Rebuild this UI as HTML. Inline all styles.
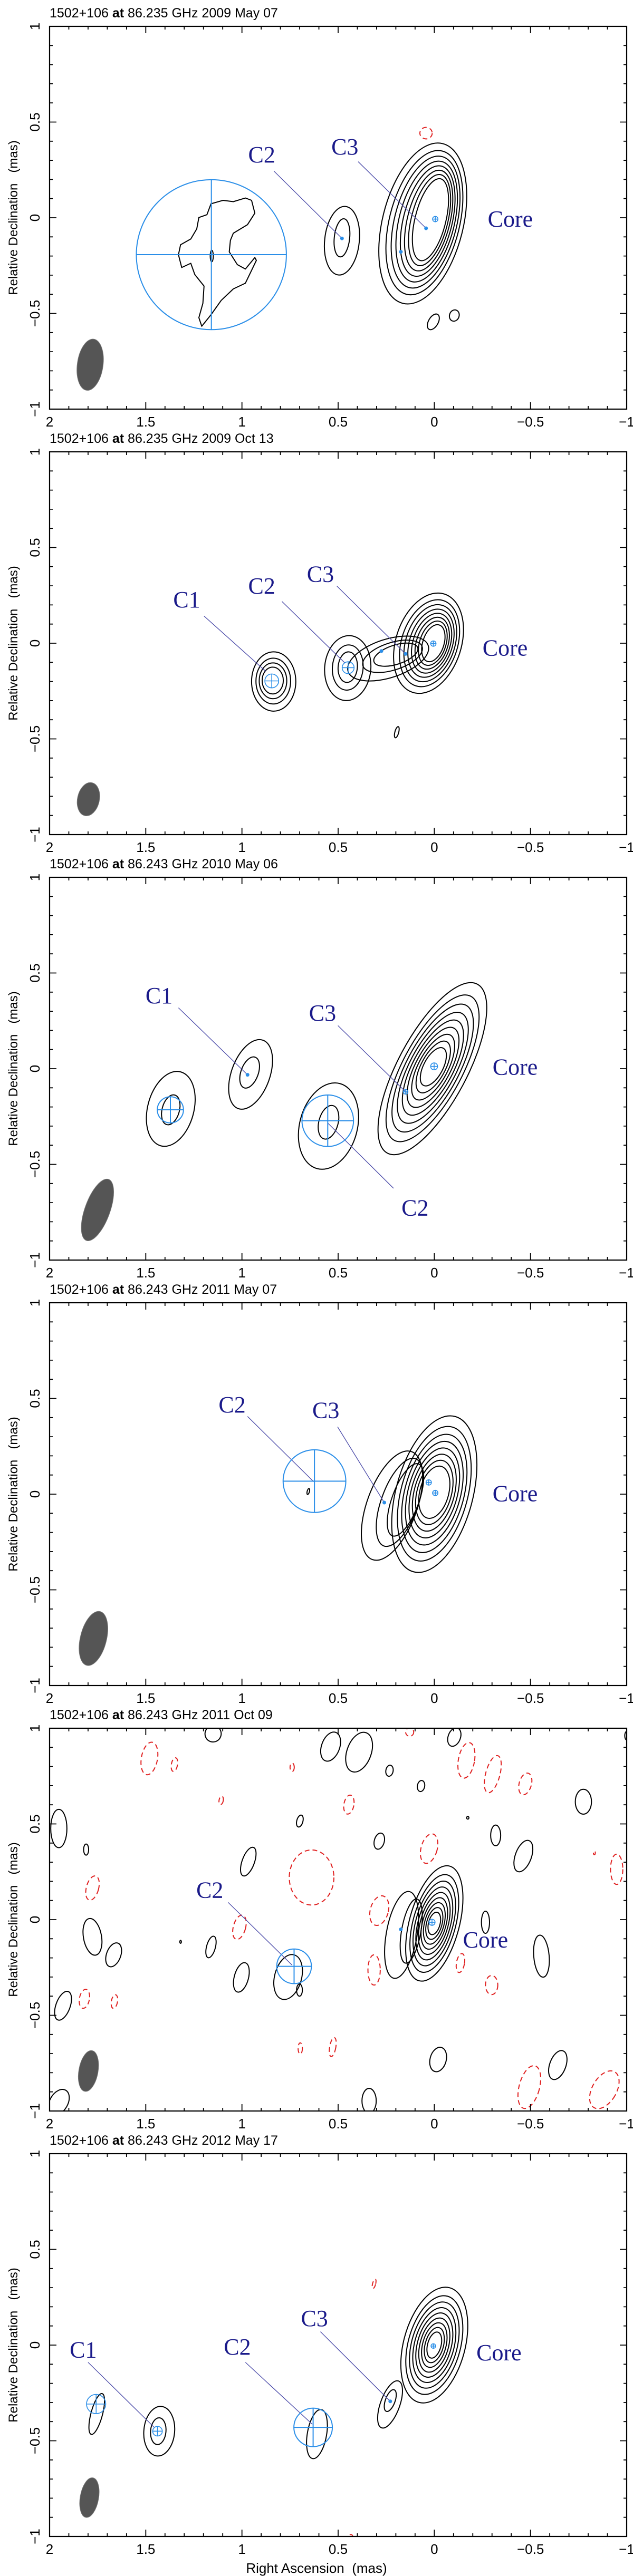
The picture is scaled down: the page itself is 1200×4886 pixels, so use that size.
<!DOCTYPE html>
<html><head><meta charset="utf-8"><title>1502+106 86 GHz maps</title>
<style>
html,body{margin:0;padding:0;background:#fff;}
svg{display:block;}
</style></head>
<body>
<svg id="fig" xmlns="http://www.w3.org/2000/svg" width="1200" height="4886" viewBox="0 0 1200 4886">
<rect x="0" y="0" width="1200" height="4886" fill="#fff"/>
<text x="600" y="4880" text-anchor="middle" font-family="Liberation Sans, sans-serif" font-size="26" fill="#000" style="white-space:pre">Right Ascension  (mas)</text>
</svg>
<script>
const titles = [
 ["1502+106 ","at"," 86.235 GHz 2009 May 07"],
 ["1502+106 ","at"," 86.235 GHz 2009 Oct 13"],
 ["1502+106 ","at"," 86.243 GHz 2010 May 06"],
 ["1502+106 ","at"," 86.243 GHz 2011 May 07"],
 ["1502+106 ","at"," 86.243 GHz 2011 Oct 09"],
 ["1502+106 ","at"," 86.243 GHz 2012 May 17"]
];
const xTicks = [2, 1.5, 1, 0.5, 0, -0.5, -1];
const xTickLabels = ["2","1.5","1","0.5","0","\u22120.5","\u22121"];
const yTicks = [1, 0.5, 0, -0.5, -1];
const yTickLabels = ["1","0.5","0","\u22120.5","\u22121"];
const beams = [
 [0,1.789,-0.768,0.135,0.067,8],
 [1,1.798,-0.815,0.088,0.057,12],
 [2,1.751,-0.738,0.170,0.065,20],
 [3,1.772,-0.754,0.145,0.068,14],
 [4,1.798,-0.791,0.108,0.050,10],
 [5,1.793,-0.797,0.105,0.048,10]
];
const contourGroups = [
 [0,0.06,-0.03,0.43,0.21, 0.02,-0.01,0.22,0.08, 14, 8],
 [0,0.48,-0.12,0.18,0.09, 0.48,-0.105,0.10,0.04, 6, 2],
 [1,0.03,0.0,0.27,0.17, 0.005,0.0,0.10,0.055, 18, 8],
 [1,0.24,-0.08,0.22,0.10, 0.20,-0.06,0.12,0.05, 72, 3],
 [1,0.45,-0.13,0.17,0.12, 0.45,-0.125,0.08,0.05, 5, 3],
 [1,0.835,-0.2,0.155,0.115, 0.84,-0.195,0.07,0.055, 0, 4],
 [2,0.01,0.0,0.50,0.18, 0.005,0.01,0.11,0.05, 28, 9],
 [2,0.55,-0.30,0.23,0.15, 0.55,-0.28,0.09,0.05, 15, 2],
 [2,0.955,-0.03,0.19,0.10, 0.96,-0.02,0.085,0.045, 20, 2],
 [2,1.37,-0.21,0.20,0.12, 1.37,-0.215,0.08,0.045, 15, 2],
 [3,0.0,0.0,0.42,0.20, 0.0,0.01,0.14,0.075, 15, 8],
 [3,0.22,-0.06,0.30,0.13, 0.15,-0.03,0.20,0.07, 20, 3],
 [4,0.0,-0.02,0.31,0.13, 0.0,-0.02,0.06,0.03, 15, 9],
 [4,0.17,-0.08,0.23,0.08, 0.12,-0.06,0.17,0.05, 10, 2],
 [4,0.76,-0.30,0.12,0.07, 0.76,-0.30,0.12,0.07, 15, 1],
 [5,0.0,0.0,0.31,0.16, 0.0,0.0,0.07,0.035, 15, 9],
 [5,0.23,-0.31,0.13,0.05, 0.229,-0.29,0.06,0.025, 20, 2],
 [5,0.61,-0.465,0.13,0.05, 0.61,-0.465,0.13,0.05, 10, 1],
 [5,1.43,-0.45,0.13,0.08, 1.435,-0.45,0.07,0.04, 5, 2],
 [5,1.755,-0.36,0.11,0.03, 1.755,-0.36,0.11,0.03, 15, 1]
];
const blackBlobs = [
 [0,1.157,-0.20,0.008,0.03,0],[0,0.005,-0.544,0.025,0.045,30],[0,-0.104,-0.511,0.025,0.03,20],
 [1,0.195,-0.465,0.01,0.03,15],[3,0.655,0.014,0.006,0.016,15],
 [4,1.150,0.971,0.042,0.043,20],[4,0.539,0.904,0.047,0.079,20],[4,0.391,0.875,0.063,0.108,20],
 [4,0.233,0.778,0.019,0.029,10],[4,0.069,0.698,0.019,0.029,10],[4,-0.104,0.954,0.032,0.05,20],
 [4,-0.775,0.616,0.042,0.065,0],[4,-0.174,0.532,0.006,0.007,0],[4,0.699,0.515,0.016,0.032,15],
 [4,1.952,0.476,0.042,0.10,0],[4,1.81,0.366,0.013,0.029,0],[4,0.286,0.41,0.026,0.043,15],
 [4,-0.319,0.44,0.026,0.054,0],[4,-0.463,0.332,0.042,0.086,20],[4,0.967,0.303,0.032,0.079,20],
 [4,-0.266,-0.014,0.021,0.058,0],[4,1.777,-0.09,0.047,0.097,-10],[4,1.667,-0.184,0.037,0.065,20],
 [4,1.161,-0.143,0.023,0.058,15],[4,1.319,-0.116,0.004,0.008,0],[4,1.003,-0.302,0.037,0.079,15],
 [4,0.701,-0.368,0.015,0.032,0],[4,1.93,-0.45,0.037,0.079,20],
 [4,-0.557,-0.191,0.04,0.11,-5],[4,-0.02,-0.731,0.042,0.065,15],[4,-0.642,-0.76,0.042,0.079,20],
 [4,0.339,-0.947,0.037,0.065,0],[4,1.952,-0.954,0.047,0.072,30],[4,-1.0,0.961,0.01,0.022,0]
];
const redBlobs = [
 [0,0.043,0.442,0.032,0.03,0],[5,0.313,0.32,0.008,0.025,15],[5,0.434,-1.0,0.01,0.01,0],
 [4,1.481,0.842,0.042,0.086,10],[4,1.351,0.81,0.016,0.036,10],[4,0.739,0.796,0.011,0.022,0],
 [4,1.108,0.623,0.011,0.022,10],[4,0.444,0.601,0.026,0.05,10],[4,0.027,0.371,0.042,0.079,15],
 [4,-0.167,0.832,0.042,0.094,10],[4,-0.304,0.76,0.037,0.10,15],[4,-0.473,0.709,0.032,0.058,15],
 [4,0.128,0.98,0.021,0.022,0],[4,0.638,0.22,0.116,0.144,0],[4,1.777,0.165,0.032,0.065,15],
 [4,1.013,-0.04,0.032,0.065,15],[4,0.286,0.047,0.047,0.079,15],[4,0.313,-0.263,0.032,0.079,0],
 [4,-0.136,-0.227,0.021,0.05,10],[4,-0.298,-0.342,0.032,0.05,0],[4,1.819,-0.414,0.026,0.05,10],
 [4,1.663,-0.428,0.016,0.036,10],[4,0.697,-0.673,0.011,0.029,0],[4,0.528,-0.666,0.016,0.05,10],
 [4,-0.494,-0.875,0.053,0.115,15],[4,-0.884,-0.889,0.063,0.108,30],[4,-0.948,0.263,0.032,0.079,0],
 [4,-0.832,0.349,0.005,0.01,0]
];
const blobRa  = [1.161,1.098,1.045,0.982,0.950,0.933,0.971,1.045,1.060,1.066,1.024,0.982,0.933,0.925,0.950,0.982,1.045,1.108,1.161,1.209,1.224,1.203,1.197,1.245,1.266,1.313,1.330,1.319,1.266,1.235,1.224,1.182];
const blobDec = [0.073,0.091,0.084,0.103,0.091,0.024,-0.036,-0.081,-0.118,-0.178,-0.245,-0.268,-0.208,-0.223,-0.275,-0.342,-0.372,-0.432,-0.507,-0.567,-0.522,-0.447,-0.357,-0.297,-0.238,-0.260,-0.193,-0.141,-0.111,-0.058,0.001,0.016];
const models = [
 [0,1.159,-0.193,0.39],[0,-0.005,-0.007,0.014],
 [1,0.845,-0.197,0.036],[1,0.448,-0.128,0.031],[1,0.005,-0.002,0.014],
 [2,1.372,-0.215,0.068],[2,0.554,-0.272,0.134],[2,0.149,-0.121,0.012],[2,0.001,0.012,0.018],
 [3,0.623,0.068,0.163],[3,0.029,0.061,0.014],[3,-0.005,0.006,0.014],
 [4,0.729,-0.244,0.09],[4,0.012,-0.014,0.016],
 [5,1.758,-0.308,0.05],[5,1.439,-0.45,0.025],[5,0.63,-0.43,0.10],[5,0.005,-0.005,0.012]
];
const dots = [
 [0,0.043,-0.055],[0,0.174,-0.178],[0,0.48,-0.108],
 [1,0.275,-0.041],[1,0.149,-0.056],
 [2,0.971,-0.032],
 [3,0.26,-0.044],
 [4,0.174,-0.051],
 [5,0.229,-0.294]
];
const labels = [
 [0,"C2",0.897,0.33],[0,"C3",0.465,0.372],[0,"Core",-0.395,-0.006],
 [1,"C1",1.287,0.229],[1,"C2",0.897,0.30],[1,"C3",0.592,0.362],[1,"Core",-0.368,-0.024],
 [2,"C1",1.431,0.383],[2,"C3",0.581,0.292],[2,"Core",-0.42,0.009],[2,"C2",0.10,-0.726],
 [3,"C2",1.051,0.468],[3,"C3",0.564,0.439],[3,"Core",-0.42,0.004],
 [4,"C2",1.167,0.155],[4,"Core",-0.266,-0.104],
 [5,"C1",1.825,-0.023],[5,"C2",1.024,-0.008],[5,"C3",0.623,0.14],[5,"Core",-0.336,-0.039]
];
const leaders = [
 [0,0.834,0.244,0.48,-0.108],[0,0.396,0.293,0.043,-0.055],
 [1,1.197,0.142,0.876,-0.147],[1,0.792,0.218,0.465,-0.103],[1,0.507,0.299,0.149,-0.056],
 [2,1.33,0.318,0.971,-0.032],[2,0.501,0.225,0.149,-0.121],[2,0.554,-0.284,0.212,-0.625],
 [3,0.971,0.406,0.627,0.065],[3,0.503,0.352,0.26,-0.044],
 [4,1.072,0.09,0.739,-0.238],
 [5,1.8,-0.09,1.456,-0.43],[5,0.982,-0.09,0.634,-0.414],[5,0.592,0.07,0.233,-0.29]
];

const NS = "http://www.w3.org/2000/svg";
const svg = document.getElementById('fig');
const FX0 = 94, FX1 = 1188, FH = 726, PSTEP = 807, FTOP0 = 50;
const SX = (FX1 - FX0) / 3, SY = FH / 2;
function panelTop(p){ return FTOP0 + p * PSTEP; }
function xOf(ra){ return FX0 + (2 - ra) * SX; }
function yOf(p, dec){ return panelTop(p) + (1 - dec) * SY; }
function mk(tag, attrs, parent){
  const e = document.createElementNS(NS, tag);
  for (const k in attrs) e.setAttribute(k, attrs[k]);
  (parent || svg).appendChild(e);
  return e;
}
const panels = [];
for (let p = 0; p < 6; p++){
  const T = panelTop(p);
  const g = mk('g', {});
  
  
  const cp = mk('clipPath', {id: 'clip' + p}, g);
  mk('rect', {x: FX0, y: T, width: FX1 - FX0, height: FH}, cp);
  const plot = mk('g', {'clip-path': 'url(#clip' + p + ')'}, g);
  
  
  panels.push({g: g, plot: plot});
  const t = mk('text', {x: FX0, y: T - 17, 'font-family': 'Liberation Sans, sans-serif', 'font-size': 25, fill: '#000'}, g);
  
  
  const s1 = mk('tspan', {}, t); s1.textContent = titles[p][0];
  const s2 = mk('tspan', {'font-weight': 'bold'}, t); s2.textContent = titles[p][1];
  const s3 = mk('tspan', {}, t); s3.textContent = titles[p][2];
  const fr = mk('rect', {x: FX0, y: T, width: FX1 - FX0, height: FH, fill: 'none', stroke: '#000', 'stroke-width': 2.2}, g);
  
  
  let d = '';
  for (let i = 0; i <= 30; i++){
    const x = xOf(2 - i * 0.1);
    const L = (i % 5 === 0) ? 13 : 6;
    d += 'M' + x + ' ' + T + 'v' + L + 'M' + x + ' ' + (T + FH) + 'v-' + L;
  }
  for (let i = 0; i <= 20; i++){
    const y = yOf(p, 1 - i * 0.1);
    const L = (i % 5 === 0) ? 13 : 6;
    d += 'M' + FX0 + ' ' + y + 'h' + L + 'M' + FX1 + ' ' + y + 'h-' + L;
  }
  const tk = mk('path', {d: d, stroke: '#000', 'stroke-width': 1.8, fill: 'none'}, g);
  
  
  xTicks.forEach((v, i) => {
    const e = mk('text', {x: xOf(v), y: T + FH + 33, 'text-anchor': 'middle', 'font-family': 'Liberation Sans, sans-serif', 'font-size': 26, fill: '#000'}, g);
    
    
    e.textContent = xTickLabels[i];
  });
  yTicks.forEach((v, i) => {
    const y = yOf(p, v);
    const e = mk('text', {x: 0, y: 0, transform: 'translate(75 ' + y + ') rotate(-90)', 'text-anchor': 'middle', 'font-family': 'Liberation Sans, sans-serif', 'font-size': 26, fill: '#000'}, g);
    
    
    e.textContent = yTickLabels[i];
  });
  const yt = mk('text', {x: 0, y: 0, transform: 'translate(33 ' + (T + FH / 2) + ') rotate(-90)', 'text-anchor': 'middle', 'font-family': 'Liberation Sans, sans-serif', 'font-size': 24, fill: '#000', style: 'white-space:pre'}, g);
  
  
  yt.textContent = 'Relative Declination   (mas)';
}
function ell(p, ra, dec, rx, ry, tilt, attrs){
  const cx = xOf(ra), cy = yOf(p, dec);
  const a = Object.assign({cx: cx, cy: cy, rx: rx * SX, ry: ry * SY, transform: 'rotate(' + tilt + ' ' + cx + ' ' + cy + ')'}, attrs);
  return mk('ellipse', a, panels[p].plot);
}
beams.forEach(b => {
  const e = ell(b[0], b[1], b[2], b[4], b[3], b[5], {fill: '#555', stroke: '#777', 'stroke-width': 1});
  
  
});
redBlobs.forEach(r => {
  const e = ell(r[0], r[1], r[2], r[3], r[4], r[5], {fill: 'none', stroke: '#e02020', 'stroke-width': 2, 'stroke-dasharray': '9 6'});
  
  
});
blackBlobs.forEach(r => {
  const e = ell(r[0], r[1], r[2], r[3], r[4], r[5], {fill: 'none', stroke: '#000', 'stroke-width': 2});
  
  
});
contourGroups.forEach(c => {
  const n = c[10];
  for (let i = 0; i < n; i++){
    const t = n === 1 ? 0 : Math.pow(i / (n - 1), 0.8);
    const ra = c[1] + (c[5] - c[1]) * t, dec = c[2] + (c[6] - c[2]) * t;
    const A = c[3] + (c[7] - c[3]) * t, B = c[4] + (c[8] - c[4]) * t;
    const e = ell(c[0], ra, dec, B, A, c[9], {fill: 'none', stroke: '#000', 'stroke-width': 2});
    
    
  }
});
{
  let d = '';
  blobRa.forEach((r, i) => { d += (i ? 'L' : 'M') + xOf(r).toFixed(1) + ' ' + yOf(0, blobDec[i]).toFixed(1); });
  const e = mk('path', {d: d + 'Z', fill: 'none', stroke: '#000', 'stroke-width': 2, 'stroke-linejoin': 'round'}, panels[0].plot);
  
  
}
leaders.forEach(l => {
  const e = mk('line', {x1: xOf(l[1]), y1: yOf(l[0], l[2]), x2: xOf(l[3]), y2: yOf(l[0], l[4]), stroke: '#4a4aa8', 'stroke-width': 1.3}, panels[l[0]].plot);
  
  
});
models.forEach(m => {
  const p = m[0], cx = xOf(m[1]), cy = yOf(p, m[2]), r = m[3] * SX;
  const g = mk('g', {stroke: '#2a8ee8', 'stroke-width': r > 20 ? 2 : 1.6, fill: 'none'}, panels[p].plot);
  
  
  mk('circle', {cx: cx, cy: cy, r: r}, g);
  mk('path', {d: 'M' + (cx - r) + ' ' + cy + 'H' + (cx + r) + 'M' + cx + ' ' + (cy - r) + 'V' + (cy + r)}, g);
});
dots.forEach(m => {
  const e = mk('circle', {cx: xOf(m[1]), cy: yOf(m[0], m[2]), r: 3.5, fill: '#2a8ee8'}, panels[m[0]].plot);
  
  
});
labels.forEach(l => {
  const e = mk('text', {x: xOf(l[2]), y: yOf(l[0], l[3]) + 15, 'text-anchor': 'middle', 'font-family': 'Liberation Serif, serif', 'font-size': 44, fill: '#1a1a8a'}, panels[l[0]].g);
  
  
  e.textContent = l[1];
});
</script>
</body></html>
